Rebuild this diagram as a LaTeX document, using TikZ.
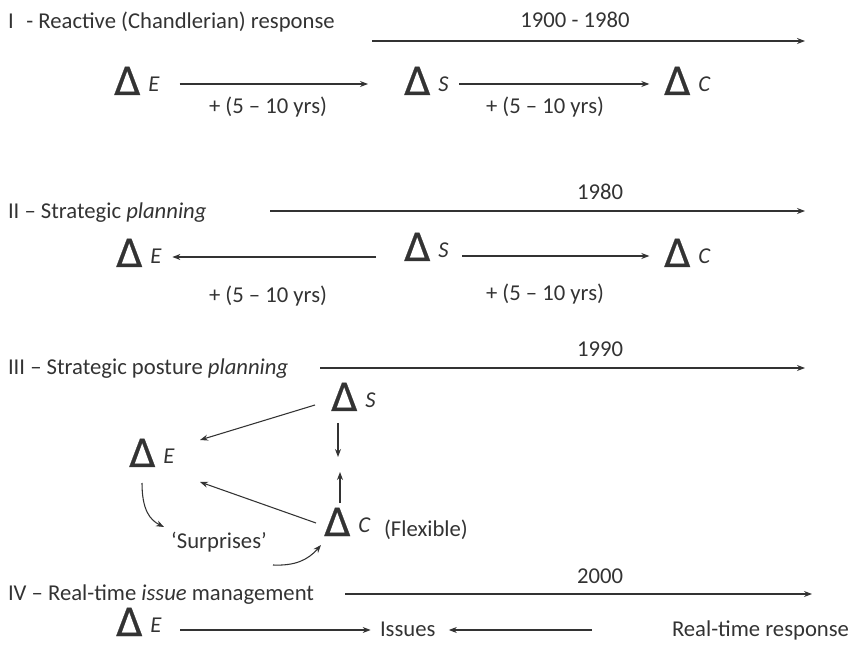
\documentclass[tikz,border=0pt]{standalone}
\usepackage{fontspec}
\setmainfont{Carlito}
\newfontfamily\dfont[FakeBold=0.5]{DejaVu Sans}
\usetikzlibrary{arrows.meta}
\definecolor{ink}{HTML}{333333}
% change symbol followed by an italic variable
\newcommand{\dsym}{{\dfont\fontsize{29}{29}\selectfont Δ}}
\newcommand{\dvar}[1]{\dsym\hspace{6pt}\raisebox{2.3pt}{\textit{#1}}}
\begin{document}
\begin{tikzpicture}[x=0.75pt,y=-0.75pt,
  every node/.style={text=ink, font=\fontsize{17}{20}\selectfont, inner sep=0pt, outer sep=0pt},
  lbl/.style={anchor=base west},
  ctr/.style={anchor=base},
  var/.style={anchor=base west, text depth=0pt},
  arr/.style={draw=ink, line width=0.8pt, -{Stealth[length=6pt,width=4.5pt]}},
  tline/.style={draw=ink, line width=0.9pt, -{Stealth[length=6pt,width=4.5pt]}}]
\useasboundingbox (0,0) rectangle (854,645);

% ---------------- I ----------------
\node[lbl] (t1) at (8,29) {I\,\, - Reactive (Chandlerian) response};
\coordinate (t1s) at (372,41);
\coordinate (t1e) at (805,41);
\draw[tline] (t1s) -- (t1e);
\node[ctr] (y1) at (575,28) {1900 - 1980};
\node[var] (e1) at (114,95) {\dvar{E}};
\node[var] (s1) at (404,95) {\dvar{S}};
\node[var] (c1) at (664,95) {\dvar{C}};
\draw[arr] ([xshift=15pt]e1.east |- 0,84) -- ([xshift=-27pt]s1.west |- 0,84);
\draw[arr] ([xshift=8pt]s1.east |- 0,84) -- ([xshift=-11pt]c1.west |- 0,84);
\node[ctr] (l1a) at (268,114) {+ (5 – 10 yrs)};
\node[ctr] (l1b) at (545,114) {+ (5 – 10 yrs)};

% ---------------- II ----------------
\node[lbl] (t2) at (8,219) {II – Strategic \textit{planning}};
\coordinate (t2s) at (270,211);
\coordinate (t2e) at (805,211);
\draw[tline] (t2s) -- (t2e);
\node[ctr] (y2) at (600,200) {1980};
\node[var] (e2) at (116,267) {\dvar{E}};
\node[var] (s2) at (404,261) {\dvar{S}};
\node[var] (c2) at (664,267) {\dvar{C}};
\draw[arr] ([xshift=-21pt]s2.west |- 0,257) -- ([xshift=8pt]e2.east |- 0,257);
\draw[arr] ([xshift=10pt]s2.east |- 0,256) -- ([xshift=-11pt]c2.west |- 0,256);
\node[ctr] (l2a) at (268,303) {+ (5 – 10 yrs)};
\node[ctr] (l2b) at (545,301) {+ (5 – 10 yrs)};

% ---------------- III ----------------
\node[lbl] (t3) at (8,375) {III – Strategic posture \textit{planning}};
\coordinate (t3s) at (320,368);
\coordinate (t3e) at (805,368);
\draw[tline] (t3s) -- (t3e);
\node[ctr] (y3) at (600,357) {1990};
\node[var] (s3) at (331,411) {\dvar{S}};
\node[var] (e3) at (129,467) {\dvar{E}};
\node[var] (c3) at (324,536) {\dvar{C}\hspace{10pt}(Flexible)};
\node[ctr] (sur) at (219,548) {‘Surprises’};
\coordinate (s3l) at (315,405);
\coordinate (e3u) at (200,440);
\coordinate (e3d) at (200,482);
\coordinate (c3l) at (316,523);
\coordinate (s3d) at (338,423);
\coordinate (mid1) at (338,457);
\coordinate (c3u) at (340,503);
\coordinate (mid2) at (340,472);
\coordinate (e3b) at (142,483);
\coordinate (surl) at (164,527);
\coordinate (surr) at (273,565);
\coordinate (c3b) at (321,545);
\draw[arr] (s3l) -- (e3u);
\draw[arr] (c3l) -- (e3d);
\draw[arr] (s3d) -- (mid1);
\draw[arr] (c3u) -- (mid2);
\draw[arr] (e3b) .. controls (142,510) and (150,520) .. (surl);
\draw[arr] (surr) .. controls (295,566) and (308,560) .. (c3b);

% ---------------- IV ----------------
\node[lbl] (t4) at (8,600) {IV – Real-time \textit{issue} management};
\coordinate (t4s) at (345,594);
\coordinate (t4e) at (812,594);
\draw[tline] (t4s) -- (t4e);
\node[ctr] (y4) at (600,583) {2000};
\node[var] (e4) at (116,636) {\dvar{E}};
\node[anchor=base west] (iss) at (380,636) {Issues};
\node[anchor=base west] (rtr) at (672,636) {Real-time response};
\draw[arr] ([xshift=14pt]e4.east |- 0,630) -- ([xshift=-7pt]iss.west |- 0,630);
\draw[arr] ([xshift=-60pt]rtr.west |- 0,630) -- ([xshift=10pt]iss.east |- 0,630);
\end{tikzpicture}
\end{document}
